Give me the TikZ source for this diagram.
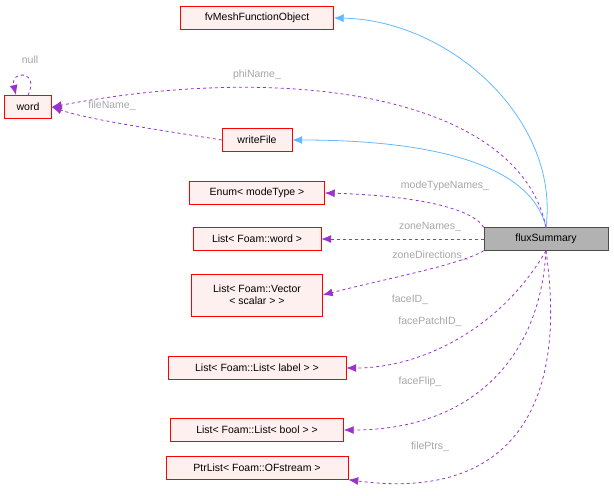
\documentclass[tikz,border=0pt]{standalone}
\usepackage{fontspec}
\setmainfont{Liberation Sans}
\usetikzlibrary{arrows.meta}

\definecolor{inhblue}{HTML}{63B8FF}
\definecolor{memviolet}{HTML}{9A32CD}
\tikzset{
  cls/.style={draw=red,fill=red!6,font=\fontsize{10.5}{12}\selectfont,inner sep=2pt,minimum height=23pt,align=center},
  inh/.style={draw=inhblue,thick,-{Latex[length=10pt,width=8pt]}},
  mem/.style={draw=memviolet,thick,dashed,-{Latex[length=10pt,width=8pt]}},
  lbl/.style={text=gray!70,font=\fontsize{10.5}{12}\selectfont}
}

\begin{document}
\begin{tikzpicture}[x=1pt,y=-1pt]
        \useasboundingbox (0,0) rectangle (614,496);
        \begin{scope}
            \node[cls,minimum width=153pt] (fvm) at (257,18) {fvMeshFunctionObject};
            \node[cls,minimum width=47pt] (word) at (28,107) {word};
            \node[cls,minimum width=70pt] (wf) at (257,140) {writeFile};
            \node[cls,minimum width=135pt] (enum) at (257,193) {Enum\textless{} modeType \textgreater{}};
            \node[cls,minimum width=128pt] (lw) at (257,239) {List\textless{} Foam::word \textgreater{}};
            \node[cls,minimum width=131pt,minimum height=42pt] (lv) at (257,295) {List\textless{} Foam::Vector\\\textless{} scalar \textgreater{} \textgreater{}};
            \node[cls,minimum width=178pt] (ll) at (257,368) {List\textless{} Foam::List\textless{} label \textgreater{} \textgreater{}};
            \node[cls,minimum width=173pt] (lb) at (257,430) {List\textless{} Foam::List\textless{} bool \textgreater{} \textgreater{}};
            \node[cls,minimum width=182pt] (pl) at (257,468) {PtrList\textless{} Foam::OFstream \textgreater{}};
            \node[cls,draw=black!70,fill=gray!60,minimum width=124pt] (flux) at (546,239) {fluxSummary};
        \end{scope}
        % inheritance
        \draw[inh] (flux.north) .. controls (560,120) and (450,20) .. (fvm.east);
        \draw[inh] (flux.north) .. controls (530,160) and (420,140) .. (wf.east);
        % members
        \draw[mem] (flux.north) .. controls (520,100) and (300,60) .. (word.east);
        \draw[mem] (wf.west) .. controls (160,130) and (90,120) .. (word.east);
        \draw[mem] (word.north) .. controls (40,70) and (10,70) .. (16,95);
        \draw[mem] (flux.north west) .. controls (470,205) and (400,195) .. (enum.east);
        \draw[mem] (flux.west) -- (lw.east);
        \draw[mem] (flux.south west) .. controls (460,265) and (380,280) .. (lv.east);
        \draw[mem] (flux.south) .. controls (500,330) and (420,368) .. (ll.east);
        \draw[mem] (flux.south) .. controls (540,360) and (470,430) .. (lb.east);
        \draw[mem] (flux.south) .. controls (570,420) and (500,500) .. (pl.south east);
        % labels
        \node[lbl] (tphi) at (257,75) {phiName\_};
        \node[lbl] (tfile) at (112,106) {fileName\_};
        \node[lbl] (tnull) at (30,60) {null};
        \node[lbl] (tmode) at (445,186) {modeTypeNames\_};
        \node[lbl] (tzn) at (430,227) {zoneNames\_};
        \node[lbl] (tzd) at (430,256) {zoneDirections\_};
        \node[lbl] (tfid) at (410,300) {faceID\_};
        \node[lbl] (tfpid) at (430,322) {facePatchID\_};
        \node[lbl] (tff) at (420,382) {faceFlip\_};
        \node[lbl] (tfp) at (430,447) {filePtrs\_};
\end{tikzpicture}
\end{document}
